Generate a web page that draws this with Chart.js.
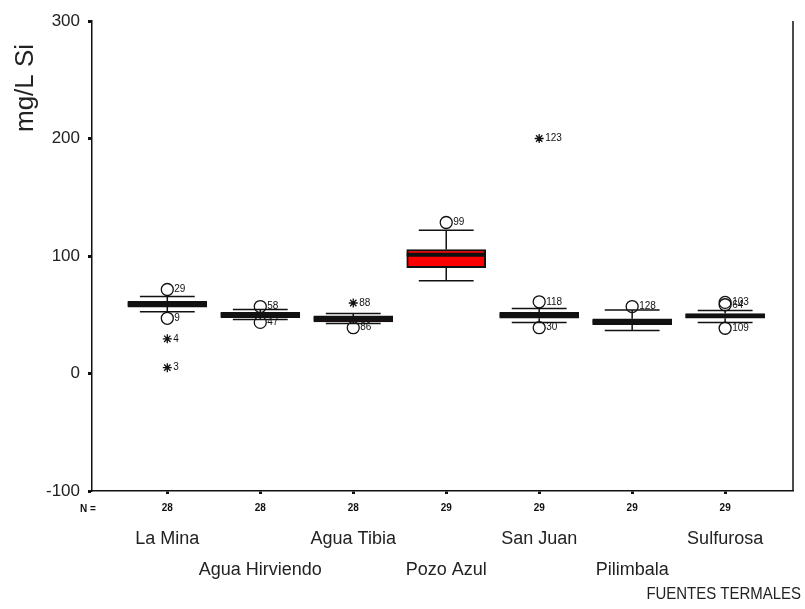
<!DOCTYPE html>
<html>
<head>
<meta charset="utf-8">
<script src="https://cdn.jsdelivr.net/npm/chart.js@4.4.1/dist/chart.umd.min.js"></script>
<style>
  html, body { margin: 0; padding: 0; background: #fff; }
  #wrap { width: 805px; height: 609px; }
</style>
</head>
<body>
<div id="wrap"><canvas id="boxChart" width="805" height="609"></canvas></div>
<script>
const categories = ["La Mina", "Agua Hirviendo", "Agua Tibia", "Pozo Azul", "San Juan", "Pilimbala", "Sulfurosa"];
const nValues = [28, 28, 28, 29, 29, 29, 29];

// box statistics per spring (mg/L Si)
const whiskerLow = [52.5, 46, 42.5, 79, 43.5, 36.5, 43.5];
const q1 = [56.5, 47.5, 44, 90, 47, 41.5, 47];
const median = [59, 50, 46.5, 101, 49.5, 44, 49];
const q3 = [61.5, 52, 49, 105.5, 52, 46.5, 51];
const whiskerHigh = [65.5, 54.5, 51, 122, 55.3, 54, 53.6];

// outliers (circles) and extremes (stars): category index, value, case id
const outlierCat = [0, 0, 1, 1, 2, 3, 4, 4, 5, 6, 6, 6];
const outlierVal = [71.5, 47, 57, 43.5, 39, 128.5, 61, 39, 57, 60.5, 58.5, 38.5];
const outlierId = ["29", "9", "58", "47", "86", "99", "118", "30", "128", "103", "64", "109"];
const extremeCat = [0, 0, 2, 4];
const extremeVal = [29.5, 5, 60, 200];
const extremeId = ["4", "3", "88", "123"];

const yTicks = [-100, 0, 100, 200, 300];

const INK = "#111";
const FONT = "'Liberation Sans', Arial, sans-serif";

function unitPx(chart) {
  const xs = chart.scales.x;
  return xs.getPixelForValue(2) - xs.getPixelForValue(1);
}

// whisker stems and caps, under the boxes
const whiskers = {
  id: "whiskers",
  beforeDatasetsDraw(chart) {
    const { ctx, scales: { x, y } } = chart;
    const cap = unitPx(chart) * 0.295;
    ctx.save();
    ctx.strokeStyle = INK;
    ctx.lineWidth = 1.5;
    categories.forEach((c, i) => {
      const px = x.getPixelForValue(i + 1);
      ctx.beginPath();
      ctx.moveTo(px, y.getPixelForValue(whiskerHigh[i]));
      ctx.lineTo(px, y.getPixelForValue(q3[i]));
      ctx.moveTo(px, y.getPixelForValue(q1[i]));
      ctx.lineTo(px, y.getPixelForValue(whiskerLow[i]));
      ctx.moveTo(px - cap, y.getPixelForValue(whiskerHigh[i]));
      ctx.lineTo(px + cap, y.getPixelForValue(whiskerHigh[i]));
      ctx.moveTo(px - cap, y.getPixelForValue(whiskerLow[i]));
      ctx.lineTo(px + cap, y.getPixelForValue(whiskerLow[i]));
      ctx.stroke();
    });
    ctx.restore();
  },
  // median line right after the boxes
  afterDatasetDraw(chart, args) {
    if (args.index !== 0) return;
    const { ctx, scales: { x, y } } = chart;
    const half = unitPx(chart) * 0.425;
    ctx.save();
    ctx.strokeStyle = INK;
    ctx.lineWidth = 4;
    categories.forEach((c, i) => {
      const px = x.getPixelForValue(i + 1);
      const py = y.getPixelForValue(median[i]);
      ctx.beginPath();
      ctx.moveTo(px - half, py);
      ctx.lineTo(px + half, py);
      ctx.stroke();
    });
    ctx.restore();
  }
};

// case labels, category names, titles, frame
const annotations = {
  id: "annotations",
  afterDatasetsDraw(chart) {
    const { ctx, chartArea, scales: { x, y } } = chart;
    ctx.save();
    ctx.fillStyle = INK;

    ctx.font = "10px " + FONT;
    ctx.textAlign = "left";
    ctx.textBaseline = "middle";
    outlierVal.forEach((v, k) => {
      ctx.fillText(outlierId[k], x.getPixelForValue(outlierCat[k] + 1) + 7, y.getPixelForValue(v));
    });
    extremeVal.forEach((v, k) => {
      ctx.fillText(extremeId[k], x.getPixelForValue(extremeCat[k] + 1) + 6, y.getPixelForValue(v));
    });

    // N = row marker
    ctx.font = "bold 10px " + FONT;
    ctx.textAlign = "left";
    ctx.fillText("N =", 80, 509);

    // category names on two staggered rows
    ctx.font = "18px " + FONT;
    ctx.textAlign = "center";
    ctx.fillStyle = "#222";
    categories.forEach((c, i) => {
      const row = i % 2 === 0 ? 539 : 570;
      ctx.fillText(c, x.getPixelForValue(i + 1), row);
    });

    // axis title, slightly condensed
    ctx.save();
    ctx.translate(801, 594);
    ctx.scale(0.88, 1);
    ctx.font = "17px " + FONT;
    ctx.textAlign = "right";
    ctx.fillText("FUENTES TERMALES", 0, 0);
    ctx.restore();

    // vertical axis title near the top
    ctx.save();
    ctx.translate(26, 132);
    ctx.rotate(-Math.PI / 2);
    ctx.font = "26px " + FONT;
    ctx.textAlign = "left";
    ctx.textBaseline = "middle";
    ctx.fillText("mg/L Si", 0, 0);
    ctx.restore();

    // right frame line
    ctx.strokeStyle = INK;
    ctx.lineWidth = 1.5;
    ctx.beginPath();
    ctx.moveTo(chartArea.right, chartArea.top);
    ctx.lineTo(chartArea.right, chartArea.bottom);
    ctx.stroke();
    ctx.restore();
  }
};

const ctx = document.getElementById("boxChart").getContext("2d");

new Chart(ctx, {
  type: "bar",
  data: {
    datasets: [
      {
        label: "Caja",
        data: categories.map((c, i) => ({ x: i + 1, y: [q1[i], q3[i]] })),
        backgroundColor: "#ff0000",
        borderColor: INK,
        borderWidth: 2,
        borderSkipped: false,
        barThickness: 79
      },
      {
        type: "scatter",
        label: "Atípicos",
        data: outlierVal.map((v, k) => ({ x: outlierCat[k] + 1, y: v })),
        pointStyle: "circle",
        pointRadius: 6,
        backgroundColor: "transparent",
        borderColor: INK,
        borderWidth: 1.3
      },
      {
        type: "scatter",
        label: "Extremos",
        data: extremeVal.map((v, k) => ({ x: extremeCat[k] + 1, y: v })),
        pointStyle: "star",
        pointRadius: 4.5,
        borderColor: INK,
        borderWidth: 1.3
      }
    ]
  },
  options: {
    responsive: false,
    animation: false,
    maintainAspectRatio: false,
    layout: { padding: { top: 21, right: 12, bottom: 0, left: 0 } },
    plugins: {
      legend: { display: false },
      tooltip: { enabled: false }
    },
    scales: {
      x: {
        type: "linear",
        offset: false,
        min: 0.19,
        max: 7.73,
        afterBuildTicks: (axis) => { axis.ticks = categories.map((c, i) => ({ value: i + 1 })); },
        afterFit: (axis) => { axis.height = 118; },
        ticks: {
          autoSkip: false,
          maxRotation: 0,
          padding: 8,
          color: INK,
          font: { family: FONT, size: 10, weight: "bold" },
          callback: (v) => String(nValues[v - 1])
        },
        grid: { offset: false, drawOnChartArea: false, drawTicks: true, tickLength: 3, tickColor: INK, tickWidth: 3 },
        border: { display: true, color: INK, width: 1.5 }
      },
      y: {
        type: "linear",
        min: -100,
        max: 300,
        afterBuildTicks: (axis) => { axis.ticks = yTicks.map((v) => ({ value: v })); },
        afterFit: (axis) => { axis.width = 92; },
        ticks: {
          padding: 8,
          color: "#222",
          font: { family: FONT, size: 17 }
        },
        grid: { drawOnChartArea: false, drawTicks: true, tickLength: 4, tickColor: INK, tickWidth: 3 },
        border: { display: true, color: INK, width: 1.5 }
      }
    }
  },
  plugins: [whiskers, annotations]
});
</script>
</body>
</html>
